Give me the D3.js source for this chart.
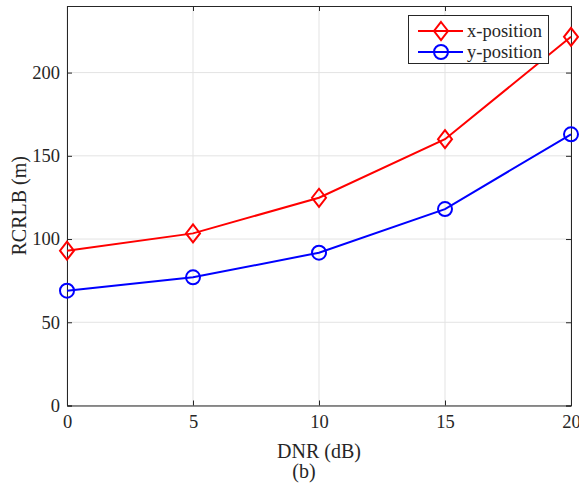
<!DOCTYPE html>
<html><head><meta charset="utf-8">
<script src="https://cdn.jsdelivr.net/npm/d3@7"></script>
<style>body{margin:0;background:#fff}svg{display:block}text{font-family:"Liberation Serif","Times New Roman",serif;fill:#262626}</style>
</head><body><svg id="c" width="579" height="489"></svg>
<script>
const dnr = [0, 5, 10, 15, 20];
const xPos = [93, 103.4, 124.8, 160, 221.5];
const yPos = [69, 77, 91.8, 118, 162.9];
const xTicks = [0, 5, 10, 15, 20];
const yTicks = [0, 50, 100, 150, 200];
const seriesNames = ["x-position", "y-position"];
const seriesColors = ["#ff0000", "#0000ff"];

const svg = d3.select("#c");
const L = 67, R = 571, T = 6, B = 405.5;
const x = d3.scaleLinear().domain([0, 20]).range([L, R]);
const y = d3.scaleLinear().domain([0, 240]).range([B, T]);

// grid
svg.append("g").selectAll("line").data(xTicks).join("line")
  .attr("x1", d => x(d)).attr("x2", d => x(d)).attr("y1", T).attr("y2", B)
  .attr("stroke", "#e3e3e3").attr("stroke-width", 1);
svg.append("g").selectAll("line").data(yTicks).join("line")
  .attr("x1", L).attr("x2", R).attr("y1", d => y(d)).attr("y2", d => y(d))
  .attr("stroke", "#e3e3e3").attr("stroke-width", 1);

// axes
const fs = "18.5px";
const xa = svg.append("g").attr("transform", `translate(0,${B})`)
  .call(d3.axisBottom(x).tickValues(xTicks).tickSize(-5).tickPadding(9).tickFormat(d3.format("d")));
const ya = svg.append("g").attr("transform", `translate(${L},0)`)
  .call(d3.axisLeft(y).tickValues(yTicks).tickSize(-5).tickPadding(7).tickFormat(d3.format("d")));
const xt = svg.append("g").attr("transform", `translate(0,${T})`)
  .call(d3.axisTop(x).tickValues(xTicks).tickSize(-5).tickFormat(""));
const yr = svg.append("g").attr("transform", `translate(${R},0)`)
  .call(d3.axisRight(y).tickValues(yTicks).tickSize(-5).tickFormat(""));
[xa, ya, xt, yr].forEach(g => {
  g.attr("font-family", null).attr("font-size", null);
  g.selectAll("path.domain").attr("stroke", "#262626").attr("stroke-width", 1);
  g.selectAll(".tick line").attr("stroke", "#262626");
  g.selectAll("text").style("font-family", '"Liberation Serif","Times New Roman",serif').style("font-size", fs).attr("fill", "#262626");
});

// lines
const sets = [xPos, yPos];
const line = d3.line().x((d, i) => x(dnr[i])).y(d => y(d));
sets.forEach((s, k) => {
  svg.append("path").datum(s).attr("d", line).attr("fill", "none")
    .attr("stroke", seriesColors[k]).attr("stroke-width", 2);
});
function diamond(g, cx, cy, c) {
  g.append("path").attr("d", `M${cx},${cy-9}L${cx+7},${cy}L${cx},${cy+9}L${cx-7},${cy}Z`)
    .attr("fill", "none").attr("stroke", c).attr("stroke-width", 2);
}
function circle(g, cx, cy, c) {
  g.append("circle").attr("cx", cx).attr("cy", cy).attr("r", 7)
    .attr("fill", "none").attr("stroke", c).attr("stroke-width", 2);
}
const mk = svg.append("g");
xPos.forEach((v, i) => diamond(mk, x(dnr[i]), y(v), seriesColors[0]));
yPos.forEach((v, i) => circle(mk, x(dnr[i]), y(v), seriesColors[1]));

// legend
const lg = svg.append("g");
lg.append("rect").attr("x", 408.5).attr("y", 15.5).attr("width", 140).attr("height", 48)
  .attr("fill", "#fff").attr("stroke", "#262626").attr("stroke-width", 1);
[31, 52].forEach((ly, k) => {
  lg.append("line").attr("x1", 418).attr("x2", 463).attr("y1", ly).attr("y2", ly)
    .attr("stroke", seriesColors[k]).attr("stroke-width", 2);
  if (k === 0) diamond(lg, 441, ly, seriesColors[0]); else circle(lg, 441, ly, seriesColors[1]);
  lg.append("text").attr("x", 467).attr("y", ly + 6).style("font-size", "18.5px").text(seriesNames[k]);
});

// labels
svg.append("text").attr("x", 319).attr("y", 458).attr("text-anchor", "middle")
  .style("font-size", "20px").text("DNR (dB)");
svg.append("text").attr("x", 304).attr("y", 478).attr("text-anchor", "middle")
  .style("font-size", "20px").text("(b)");
svg.append("text").attr("transform", `translate(26,${(T + B) / 2}) rotate(-90)`).attr("text-anchor", "middle")
  .style("font-size", "20px").text("RCRLB (m)");
</script></body></html>
